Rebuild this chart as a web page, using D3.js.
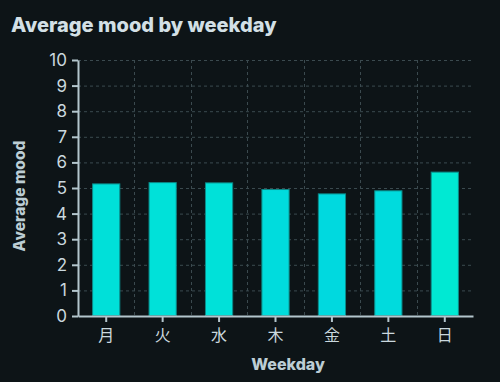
<!DOCTYPE html>
<html>
<head>
<meta charset="utf-8">
<script src="https://cdn.jsdelivr.net/npm/d3@7"></script>
<style>
  html, body { margin: 0; padding: 0; background: #0d1417; }
  svg { display: block; }
</style>
</head>
<body>
<div id="chart"></div>
<script>
const weekdays = ["月", "火", "水", "木", "金", "土", "日"];
const moods = [5.18, 5.23, 5.22, 4.96, 4.79, 4.91, 5.64];
const yTicks = d3.range(0, 11);

const W = 500, H = 382;
const margin = {top: 60, right: 27, bottom: 66, left: 78};

const svg = d3.select("#chart").append("svg")
    .attr("width", W)
    .attr("height", H)
    .style("font-family", "Inter, 'Noto Sans', sans-serif");

svg.append("rect").attr("width", W).attr("height", H).attr("fill", "#0d1417");

svg.append("text")
    .attr("x", 11)
    .attr("y", 32)
    .attr("fill", "#d3e0e6")
    .style("font-size", "20px")
    .style("font-weight", 800)
    .text("Average mood by weekday");

let x = d3.scaleBand()
    .domain(weekdays)
    .range([margin.left, W - margin.right])
    .paddingInner(0.5)
    .paddingOuter(0.25);

let xGrid = d3.scaleBand().domain(weekdays).range([margin.left, W - margin.right]);

let y = d3.scaleLinear().domain([0, 10]).range([H - margin.bottom, margin.top]);

let color = d3.scaleLinear()
    .domain([d3.min(moods), d3.max(moods)])
    .range(["#00d9df", "#00e9d3"]);

let g = svg.append("g");

// horizontal grid
g.selectAll(".hgrid")
    .data(yTicks)
    .enter().append("line")
    .attr("x1", margin.left)
    .attr("x2", W - margin.right)
    .attr("y1", d => y(d) + 0.5)
    .attr("y2", d => y(d) + 0.5)
    .attr("stroke", "#3b4a4f")
    .attr("stroke-dasharray", "3,3");

// vertical grid at band edges
g.selectAll(".vgrid")
    .data(weekdays.slice(1))
    .enter().append("line")
    .attr("x1", d => Math.round(xGrid(d)) + 0.5)
    .attr("x2", d => Math.round(xGrid(d)) + 0.5)
    .attr("y1", margin.top)
    .attr("y2", H - margin.bottom)
    .attr("stroke", "#3b4a4f")
    .attr("stroke-dasharray", "3,3");

g.selectAll(".bar")
    .data(weekdays)
    .enter().append("rect")
    .attr("x", d => x(d) + 0.5)
    .attr("y", (d, i) => y(moods[i]) + 0.5)
    .attr("width", x.bandwidth() - 1)
    .attr("height", (d, i) => y(0) - y(moods[i]) - 1)
    .attr("fill", (d, i) => color(moods[i]))
    .attr("stroke", "#0b8a88")
    .attr("stroke-width", 1);

let xAxis = svg.append("g")
    .attr("transform", "translate(0," + (H - margin.bottom) + ")")
    .call(d3.axisBottom(x).tickSize(6).tickPadding(8).tickSizeOuter(0));

let yAxis = svg.append("g")
    .attr("transform", "translate(" + margin.left + ",0)")
    .call(d3.axisLeft(y).tickValues(yTicks).tickSize(6).tickPadding(5).tickSizeOuter(0));

[xAxis, yAxis].forEach(a => {
    a.select(".domain").attr("stroke", "#b4c6cd").attr("stroke-width", 2);
    a.selectAll(".tick line").attr("stroke", "#b4c6cd").attr("stroke-width", 2);
    a.selectAll(".tick text").attr("fill", "#cad8de");
});
yAxis.selectAll(".tick text").style("font-size", "17px").style("font-family", "Inter, sans-serif");
xAxis.selectAll(".tick text").style("font-size", "16px").style("font-family", "'Noto Sans CJK JP', sans-serif");

svg.append("text")
    .attr("x", 288)
    .attr("y", 370)
    .attr("text-anchor", "middle")
    .attr("fill", "#bccdd4")
    .style("font-size", "16px")
    .style("font-weight", 800)
    .text("Weekday");

svg.append("text")
    .attr("transform", "translate(25,196) rotate(-90)")
    .attr("text-anchor", "middle")
    .attr("fill", "#bccdd4")
    .style("font-size", "15.5px")
    .style("font-weight", 800)
    .text("Average mood");
</script>
</body>
</html>
